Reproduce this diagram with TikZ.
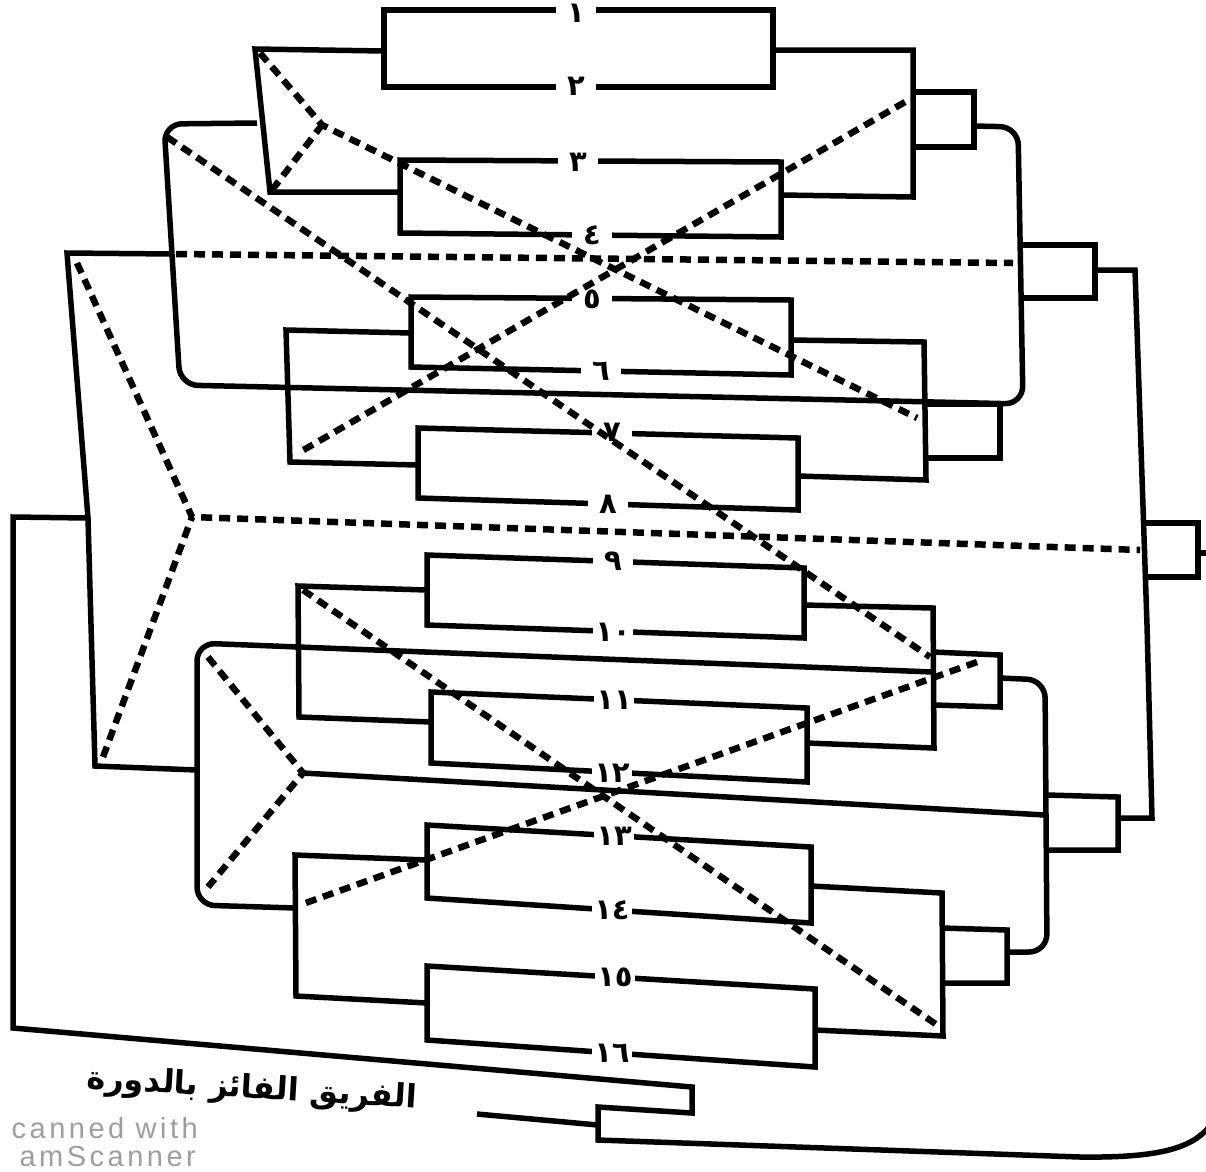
\documentclass[tikz,border=0pt]{standalone}
\usepackage{fontspec}
\setmainfont{DejaVu Sans}
\newfontfamily\arabicfont[Script=Arabic]{DejaVu Sans}
\newfontfamily\wmfont[LetterSpace=12]{Liberation Sans}
\TeXXeTstate=1
\begin{document}
\begin{tikzpicture}[x=1pt,y=-1pt,
  solidline/.style={line width=5.5pt},
  dashline/.style={line width=6.5pt, dash pattern=on 11pt off 7pt},
  loopline/.style={line width=5.5pt, rounded corners=18pt},
  num/.style={fill=white, inner sep=1.5pt, minimum width=40pt,
    font=\arabicfont\bfseries\fontsize{29}{32}\selectfont},
  wm/.style={anchor=east, text=black!38, inner sep=0pt, font=\wmfont\fontsize{29}{32}\selectfont}]
\clip (0,0) rectangle (1206,1171);
\useasboundingbox (0,0) rectangle (1206,1171);
\fill[white] (0,0) rectangle (1206,1171);

% ---------- first-round boxes ----------
\draw[solidline] (384,10) -- (773,10) -- (773,87) -- (384,87) -- cycle;
\draw[solidline] (400,160) -- (781,162) -- (781,237) -- (400,233) -- cycle;
\draw[solidline] (411,297) -- (791,300) -- (791,375) -- (411,367) -- cycle;
\draw[solidline] (418,428) -- (798,438) -- (798,510) -- (418,498) -- cycle;
\draw[solidline] (427,555) -- (804,568) -- (804,638) -- (427,625) -- cycle;
\draw[solidline] (431,692) -- (807,708) -- (807,782) -- (431,763) -- cycle;
\draw[solidline] (427,825) -- (811,847) -- (811,923) -- (427,898) -- cycle;
\draw[solidline] (427,966) -- (815,989) -- (815,1067) -- (427,1040) -- cycle;

% ---------- second-round brackets ----------
\draw[solidline] (384,51) -- (255,49) -- (270,192) -- (400,192);
\draw[solidline] (773,50) -- (913,50) -- (913,197) -- (781,195);
\draw[solidline] (411,333) -- (286,330) -- (290,462) -- (418,465);
\draw[solidline] (791,340) -- (924,342) -- (926,480) -- (798,476);
\draw[solidline] (427,590) -- (298,586) -- (299,717) -- (431,722);
\draw[solidline] (804,605) -- (933,608) -- (934,748) -- (807,743);
\draw[solidline] (427,860) -- (295,855) -- (296,996) -- (427,1003);
\draw[solidline] (811,886) -- (942,893) -- (943,1036) -- (815,1030);

% ---------- small boxes ----------
\draw[solidline] (913,92) -- (974,92) -- (974,147) -- (913,147);
\draw[solidline] (925,404) -- (1000,404) -- (1000,458) -- (926,458);
\draw[solidline] (933,652) -- (1000,655) -- (1000,707) -- (934,705);
\draw[solidline] (942,928) -- (1007,930) -- (1007,983) -- (943,983);
\draw[solidline] (1020,245) -- (1095,245) -- (1095,298) -- (1021,298);
\draw[solidline] (1146,523) -- (1198,523) -- (1198,577) -- (1148,577);
\draw[solidline] (1047,795) -- (1118,797) -- (1118,850) -- (1048,850);

% ---------- loops ----------
\draw[loopline] (257,123) -- (164,124) -- (180,385) -- (1023,404) -- (1018,127) -- (974,126);
\draw[loopline] (933,672) -- (197,643) -- (197,905) -- (296,908);
\draw[loopline] (1000,678) -- (1045,680) -- (1047,952) -- (1007,952);

% ---------- outer lines ----------
\draw[solidline] (173,254) -- (67,253) -- (88,518) -- (95,766) -- (197,770);
\draw[solidline] (88,518) -- (13,517) -- (13,1028) -- (692,1087) -- (692,1113)
   -- (598,1107) -- (598,1140) -- (1080,1157) .. controls (1160,1158) and (1192,1148) .. (1210,1126);
\draw[solidline] (1095,270) -- (1135,270) -- (1147,625) -- (1152,818) -- (1118,818);
\draw[solidline] (1198,553) -- (1210,553);
\draw[solidline] (303,773) -- (1045,815);
\draw[solidline] (477,1114) -- (598,1125);

% ---------- labels ----------
\node[num] (n1) at (576,13) {١};
\node[num] (n2) at (576,86) {٢};
\node[num] (n3) at (578,162) {٣};
\node[num] (n4) at (592,235) {٤};
\node[num] (n5) at (592,299) {٥};
\node[num] (n6) at (601,371) {٦};
\node[num] (n7) at (612,432) {٧};
\node[num] (n8) at (608,504) {٨};
\node[num] (n9) at (613,561) {٩};
\node[num] (n10) at (613,632) {١٠};
\node[num] (n11) at (614,700) {١١};
\node[num] (n12) at (612,773) {١٢};
\node[num] (n13) at (614,836) {١٣};
\node[num] (n14) at (612,910) {١٤};
\node[num] (n15) at (615,977) {١٥};
\node[num] (n16) at (612,1053) {١٦};

% ---------- dashed lines ----------
\draw[dashline] (260,53) -- (322,125) -- (917,418);
\draw[dashline] (272,190) -- (322,125);
\draw[dashline] (167,137) -- (930,657);
\draw[dashline] (905,102) -- (300,452);
\draw[dashline] (176,254) -- (1013,263);
\draw[dashline] (77,263) -- (192,517) -- (1140,550);
\draw[dashline] (103,757) -- (192,517);
\draw[dashline] (303,590) -- (940,1027);
\draw[dashline] (977,662) -- (300,905);
\draw[dashline] (208,657) -- (303,773) -- (208,887);

% ---------- texts ----------
\node[rotate=-3.4, font=\arabicfont\bfseries\fontsize{32}{38}\selectfont] (champ) at (252,1090)
  {\beginR الفريق الفائز بالدورة\endR};
\node[wm] (wm1) at (198,1128) {canned with};
\node[wm] (wm2) at (196,1156) {amScanner};
\end{tikzpicture}
\end{document}
